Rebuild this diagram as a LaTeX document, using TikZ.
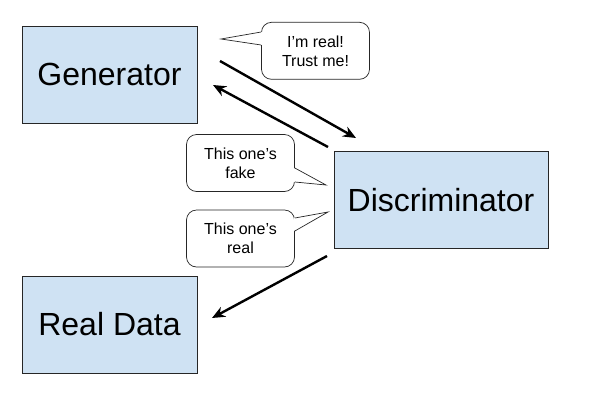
\documentclass[tikz,border=0pt]{standalone}
\usepackage{fontspec}
\setmainfont{Liberation Sans}
\usetikzlibrary{arrows.meta, calc}
\definecolor{boxblue}{HTML}{CFE2F3}

\begin{document}
\begin{tikzpicture}[x=1pt, y=-1pt,
    block/.style={draw=black!85, line width=0.8pt, fill=boxblue, minimum width=175pt, minimum height=97pt, font=\fontsize{32}{38}\selectfont},
    bubble/.style={draw=black!85, line width=0.7pt, fill=white, rounded corners=10pt, minimum width=108pt, minimum height=57pt, align=center, font=\fontsize{16}{19}\selectfont},
    pointer/.style={draw=black!85, line width=0.7pt},
    flow/.style={line width=2.4pt, -{Stealth[length=13pt, width=11pt]}}]
    \useasboundingbox (0,0) rectangle (600,400);

    \node[block] (gen) at (109.5,74.5) {Generator};
    \node[block, minimum width=214pt] (disc) at (441,200) {Discriminator};
    \node[block] (real) at (109.5,324.5) {Real Data};

    \node[bubble] (trust) at (315.5,50.8) {I’m real!\\Trust me!};
    \node[bubble] (fake) at (240.5,163) {This one’s\\fake};
    \node[bubble] (realmsg) at (240.5,238.5) {This one’s\\real};

    \coordinate (trusttip) at (221,39);
    \coordinate (faketip) at (326,185);
    \coordinate (realtip) at (328,212);

    \foreach \b/\side/\tip/\dx/\ya/\yb in {trust/west/trusttip/1/18.8/5.8, fake/east/faketip/-1/-5/-19, realmsg/east/realtip/-1/20.5/7.5}{
        \fill[white] ([xshift=\dx pt, yshift=\ya pt]\b.\side) -- (\tip) -- ([xshift=\dx pt, yshift=\yb pt]\b.\side) -- cycle;
        \draw[pointer] ([yshift=\ya pt]\b.\side) -- (\tip) -- ([yshift=\yb pt]\b.\side);
    }

    \coordinate (genout) at (220,61);
    \coordinate (discin) at (356,138);
    \coordinate (discout) at (328,147);
    \coordinate (genin) at (213,85);
    \coordinate (disclow) at (327,256);
    \coordinate (realin) at (212,318);

    \draw[flow] (genout) -- (discin);
    \draw[flow] (discout) -- (genin);
    \draw[flow] (disclow) -- (realin);
\end{tikzpicture}
\end{document}
